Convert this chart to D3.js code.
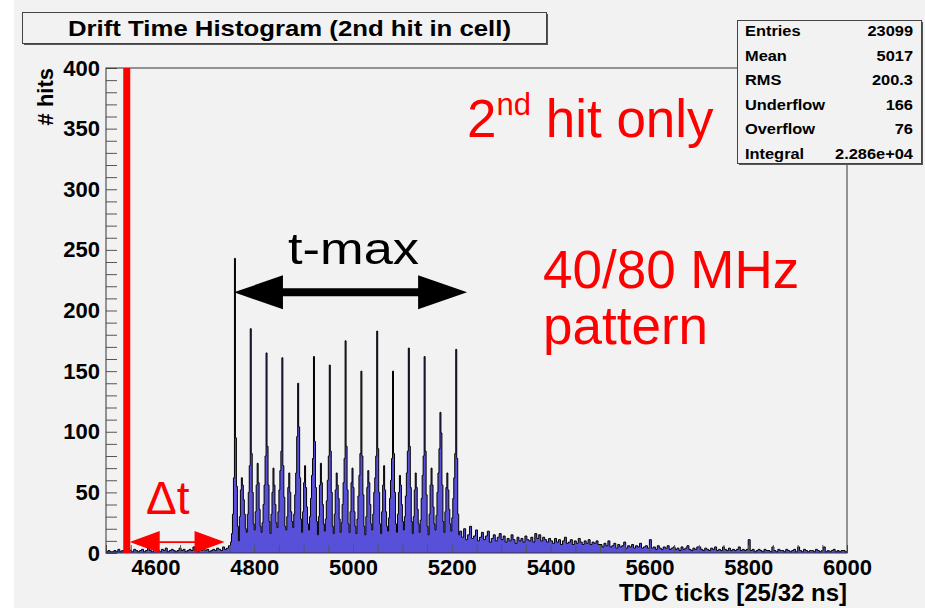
<!DOCTYPE html>
<html>
<head>
<meta charset="utf-8">
<script src="https://cdn.jsdelivr.net/npm/d3@7"></script>
<style>
  body { margin: 0; background: #ffffff; }
  text { font-family: "Liberation Sans", Arial, Helvetica, sans-serif; }
</style>
</head>
<body>
<div id="chart-area"></div>
<script>
// histogram contents (TDC ticks -> hits)
var earlyStart = 4500, earlyWidth = 4;
var earlyCounts = [1, 2, 1, 1, 2, 1, 3, 1, 2, 1,
    2, 4, 2, 1, 3, 2, 1, 2, 3, 1,
    2, 5, 2, 1, 3, 2, 2, 1, 3, 2,
    4, 1, 2, 3, 2, 1, 2, 4, 2, 3,
    1, 2, 3, 2, 5, 2, 1, 3, 2, 4,
    2, 3, 1, 2, 3, 2, 4, 3, 2, 5,
    3, 4, 6];

var peakStart = 4752, peakWidth = 2;
var peakCounts = [9, 16, 32, 62,
    243, 95, 55, 22, 10, 30, 52, 62, 56, 44, 32, 20, 17, 32, 50, 72,
    185, 82, 50, 24, 19, 34, 56, 74, 58, 36, 22, 17, 25, 40, 56, 80,
    165, 88, 56, 26, 16, 32, 50, 70, 56, 40, 25, 21, 34, 52, 68, 84,
    161, 72, 46, 22, 19, 30, 54, 66, 50, 34, 26, 21, 32, 48, 66, 96,
    140, 104, 62, 28, 17, 34, 58, 72, 54, 38, 24, 19, 30, 45, 64, 78,
    162, 92, 54, 26, 15, 30, 56, 74, 58, 40, 24, 18, 28, 43, 60, 80,
    155, 84, 50, 22, 16, 32, 52, 66, 56, 45, 28, 17, 25, 40, 58, 78,
    175, 88, 52, 24, 17, 34, 58, 70, 54, 34, 22, 16, 28, 47, 64, 82,
    150, 80, 48, 22, 15, 30, 54, 68, 58, 40, 24, 19, 32, 50, 62, 80,
    183, 86, 50, 24, 16, 34, 56, 72, 52, 34, 22, 18, 29, 45, 60, 78,
    150, 82, 50, 24, 17, 32, 50, 64, 56, 40, 26, 19, 30, 47, 66, 84,
    169, 88, 54, 26, 16, 30, 52, 66, 54, 36, 24, 17, 27, 45, 64, 80,
    162, 84, 48, 22, 15, 32, 56, 70, 56, 38, 24, 19, 31, 50, 66, 86,
    116, 99, 56, 26, 17, 34, 54, 66, 52, 36, 24, 18, 29, 45, 62, 82,
    168, 78, 32, 15];

var tailStart = 5216, tailWidth = 4;
var tailCounts = [18, 13, 20, 11, 15, 22, 12, 14, 19, 10, 13, 17, 11, 14, 18, 9, 12, 15, 10, 13, 16,
    11, 14, 9, 12, 10, 15, 11, 8, 13, 10, 12, 9, 14, 11, 10, 13, 9, 16, 12, 15, 10, 13, 11, 9, 12,
    10, 8, 12, 9, 11, 7, 10, 13, 8, 9, 11, 7, 10, 8, 12, 9, 7, 10, 8, 11, 7, 9, 8, 10, 7,
    7, 5, 8, 6, 10, 5, 6, 8, 4, 7, 5, 6, 9, 4, 6, 5, 7, 4, 6, 5, 8, 4, 5, 6, 4,
    11, 4, 5, 3, 6, 4, 3, 5, 4, 6, 3, 4, 5, 3, 4, 2, 5, 3, 4, 6, 3, 2, 4, 3, 5,
    5, 3, 2, 4, 3, 2, 4, 3, 5, 2, 3, 2, 5, 3, 2, 4, 2, 3, 2, 3, 5, 2, 3, 2, 3,
    11, 2, 3, 1, 2, 3, 2, 1, 3, 2, 2, 1, 5, 2, 1, 3, 2, 2, 1, 3, 2, 1, 2, 3, 1,
    5, 2, 1, 3, 2, 1, 2, 2, 1, 3, 2, 1, 2, 5, 1, 2, 1, 2, 3, 1, 2, 1, 2, 2, 1];

var xTicks = [4600, 4800, 5000, 5200, 5400, 5600, 5800, 6000];
var yTicks = [0, 50, 100, 150, 200, 250, 300, 350, 400];

var statLabels = ["Entries", "Mean", "RMS", "Underflow", "Overflow", "Integral"];
var statValues = ["23099", "5017", "200.3", "166", "76", "2.286e+04"];

var redLineTick = 4542;
var dtArrow = [4548, 4740, 9];      // from, to, height
var tmaxArrow = [4759, 5231, 215];

var svg = d3.select("#chart-area")
    .append("svg")
    .attr("width", 925)
    .attr("height", 608);

// canvas
svg.append("rect").attr("x", 0).attr("y", 0).attr("width", 925).attr("height", 608).attr("fill", "#ffffff");
svg.append("rect").attr("x", 14).attr("y", 0).attr("width", 911).attr("height", 608).attr("fill", "#f2f2f2");

var x = d3.scaleLinear().domain([4500, 6000]).range([106, 847]);
var y = d3.scaleLinear().domain([0, 400]).range([553, 68]);

// the original text is a bit wider than the font, stretch it
function widen(sel, k) {
    sel.each(function () {
        var w = this.getComputedTextLength();
        d3.select(this).attr("textLength", w * k).attr("lengthAdjust", "spacingAndGlyphs");
    });
}

// build bins from the three pieces
var bins = [];
function addBins(start, w, counts) {
    counts.forEach(function (n, i) {
        bins.push({ x0: start + i * w, x1: start + (i + 1) * w, n: n });
    });
}
addBins(earlyStart, earlyWidth, earlyCounts);
addBins(peakStart, peakWidth, peakCounts);
addBins(tailStart, tailWidth, tailCounts);

var steps = [];
bins.forEach(function (b) {
    steps.push({ t: b.x0, n: b.n });
    steps.push({ t: b.x1, n: b.n });
});

svg.append("path")
    .datum(steps)
    .attr("fill", "#5850d8")
    .attr("d", d3.area()
        .x(function (d) { return x(d.t); })
        .y0(y(0))
        .y1(function (d) { return y(d.n); }));

svg.append("path")
    .datum(steps)
    .attr("fill", "none")
    .attr("stroke", "#000")
    .attr("stroke-width", 1)
    .attr("d", d3.line()
        .x(function (d) { return x(d.t); })
        .y(function (d) { return y(d.n); }));

// axes, ROOT style ticks inside the frame
var yMinor = svg.append("g")
    .attr("transform", "translate(106,0)")
    .call(d3.axisLeft(y).tickValues(d3.range(0, 401, 10)).tickSize(-11).tickFormat(""));
yMinor.select(".domain").remove();
yMinor.selectAll("line").attr("stroke", "#555");

var yAxis = svg.append("g")
    .attr("transform", "translate(106,0)")
    .call(d3.axisLeft(y).tickValues(yTicks).tickSize(0).tickPadding(6));
yAxis.select(".domain").remove();
yAxis.selectAll("text")
    .attr("font-size", "22px")
    .attr("font-weight", "bold")
    .attr("fill", "#000")
    .style("font-family", "'Liberation Sans', Arial, sans-serif");

var xMinor = svg.append("g")
    .attr("transform", "translate(0,553)")
    .call(d3.axisBottom(x).tickValues(d3.range(4500, 6001, 50)).tickSize(-8).tickFormat(""));
xMinor.select(".domain").remove();
xMinor.selectAll("line").attr("stroke", "#555");

var xAxis = svg.append("g")
    .attr("transform", "translate(0,553)")
    .call(d3.axisBottom(x).tickValues(xTicks).tickSize(0).tickPadding(6).tickFormat(d3.format("d")));
xAxis.select(".domain").remove();
xAxis.selectAll("text")
    .attr("font-size", "22px")
    .attr("font-weight", "bold")
    .attr("fill", "#000")
    .style("font-family", "'Liberation Sans', Arial, sans-serif");

// frame
svg.append("rect")
    .attr("x", x(4500)).attr("y", y(400))
    .attr("width", x(6000) - x(4500)).attr("height", y(0) - y(400))
    .attr("fill", "none")
    .attr("stroke", "#333")
    .attr("stroke-width", 1);

// axis titles
svg.append("text")
    .attr("transform", "translate(53,68) rotate(-90)")
    .attr("text-anchor", "end")
    .attr("font-size", "22px")
    .attr("font-weight", "bold")
    .text("# hits");

svg.append("text")
    .attr("x", 847)
    .attr("y", 601)
    .attr("text-anchor", "end")
    .attr("font-size", "24px")
    .attr("font-weight", "bold")
    .text("TDC ticks [25/32 ns]");

// red marker line
svg.append("rect")
    .attr("x", x(redLineTick) - 3.5)
    .attr("y", y(400))
    .attr("width", 7)
    .attr("height", y(0) - y(400))
    .attr("fill", "#ff0000");

// double arrows
function doubleArrow(x1, x2, yy, headLen, headHalf, shaftHalf, color) {
    var p = d3.path();
    p.moveTo(x1, yy);
    p.lineTo(x1 + headLen, yy - headHalf);
    p.lineTo(x1 + headLen, yy - shaftHalf);
    p.lineTo(x2 - headLen, yy - shaftHalf);
    p.lineTo(x2 - headLen, yy - headHalf);
    p.lineTo(x2, yy);
    p.lineTo(x2 - headLen, yy + headHalf);
    p.lineTo(x2 - headLen, yy + shaftHalf);
    p.lineTo(x1 + headLen, yy + shaftHalf);
    p.lineTo(x1 + headLen, yy + headHalf);
    p.closePath();
    svg.append("path").attr("d", p.toString()).attr("fill", color);
}
doubleArrow(x(dtArrow[0]), x(dtArrow[1]), y(dtArrow[2]), 30, 11, 0.8, "#ff0000");
doubleArrow(x(tmaxArrow[0]), x(tmaxArrow[1]), y(tmaxArrow[2]), 49, 17, 4, "#000000");

// annotations
svg.append("text")
    .attr("x", 146).attr("y", 514)
    .attr("font-size", "46px")
    .attr("fill", "#ff0000")
    .text("\u0394t");

svg.append("text")
    .attr("x", 288).attr("y", 264)
    .attr("font-size", "44px")
    .attr("textLength", 131)
    .attr("lengthAdjust", "spacingAndGlyphs")
    .attr("fill", "#000")
    .text("t-max");

var hit2 = svg.append("text")
    .attr("x", 467).attr("y", 137)
    .attr("font-size", "53px")
    .attr("fill", "#ff0000");
hit2.append("tspan").text("2");
hit2.append("tspan").attr("font-size", "31px").attr("dy", -22).text("nd");
hit2.append("tspan").attr("dy", 22).text(" hit only");

svg.append("text")
    .attr("x", 543).attr("y", 288)
    .attr("font-size", "53px")
    .attr("fill", "#ff0000")
    .text("40/80 MHz");

svg.append("text")
    .attr("x", 543).attr("y", 344)
    .attr("font-size", "53px")
    .attr("fill", "#ff0000")
    .text("pattern");

// title box
svg.append("rect").attr("x", 24).attr("y", 14).attr("width", 524).attr("height", 31).attr("fill", "#555");
svg.append("rect").attr("x", 22.5).attr("y", 12.5).attr("width", 524).attr("height", 31)
    .attr("fill", "#f2f2f2").attr("stroke", "#444").attr("stroke-width", 1);
svg.append("text")
    .attr("x", 68).attr("y", 36)
    .attr("font-size", "22px")
    .attr("font-weight", "bold")
    .attr("textLength", 443)
    .attr("lengthAdjust", "spacingAndGlyphs")
    .text("Drift Time Histogram (2nd hit in cell)");

// stats box
svg.append("rect").attr("x", 739).attr("y", 22).attr("width", 184).attr("height", 143).attr("fill", "#555");
svg.append("rect").attr("x", 737.5).attr("y", 20.5).attr("width", 184).attr("height", 143)
    .attr("fill", "#f2f2f2").attr("stroke", "#444").attr("stroke-width", 1);

var rows = svg.append("g").selectAll("g")
    .data(statLabels)
    .enter()
    .append("g");
rows.append("text")
    .attr("class", "stat")
    .attr("x", 745)
    .attr("y", function (d, i) { return 36 + i * 24.5; })
    .attr("font-size", "14px")
    .attr("font-weight", "bold")
    .text(function (d) { return d; });
rows.append("text")
    .attr("class", "stat")
    .attr("x", 913)
    .attr("y", function (d, i) { return 36 + i * 24.5; })
    .attr("text-anchor", "end")
    .attr("font-size", "14px")
    .attr("font-weight", "bold")
    .text(function (d, i) { return statValues[i]; });
widen(svg.selectAll("text.stat"), 1.17);
</script>
</body>
</html>
